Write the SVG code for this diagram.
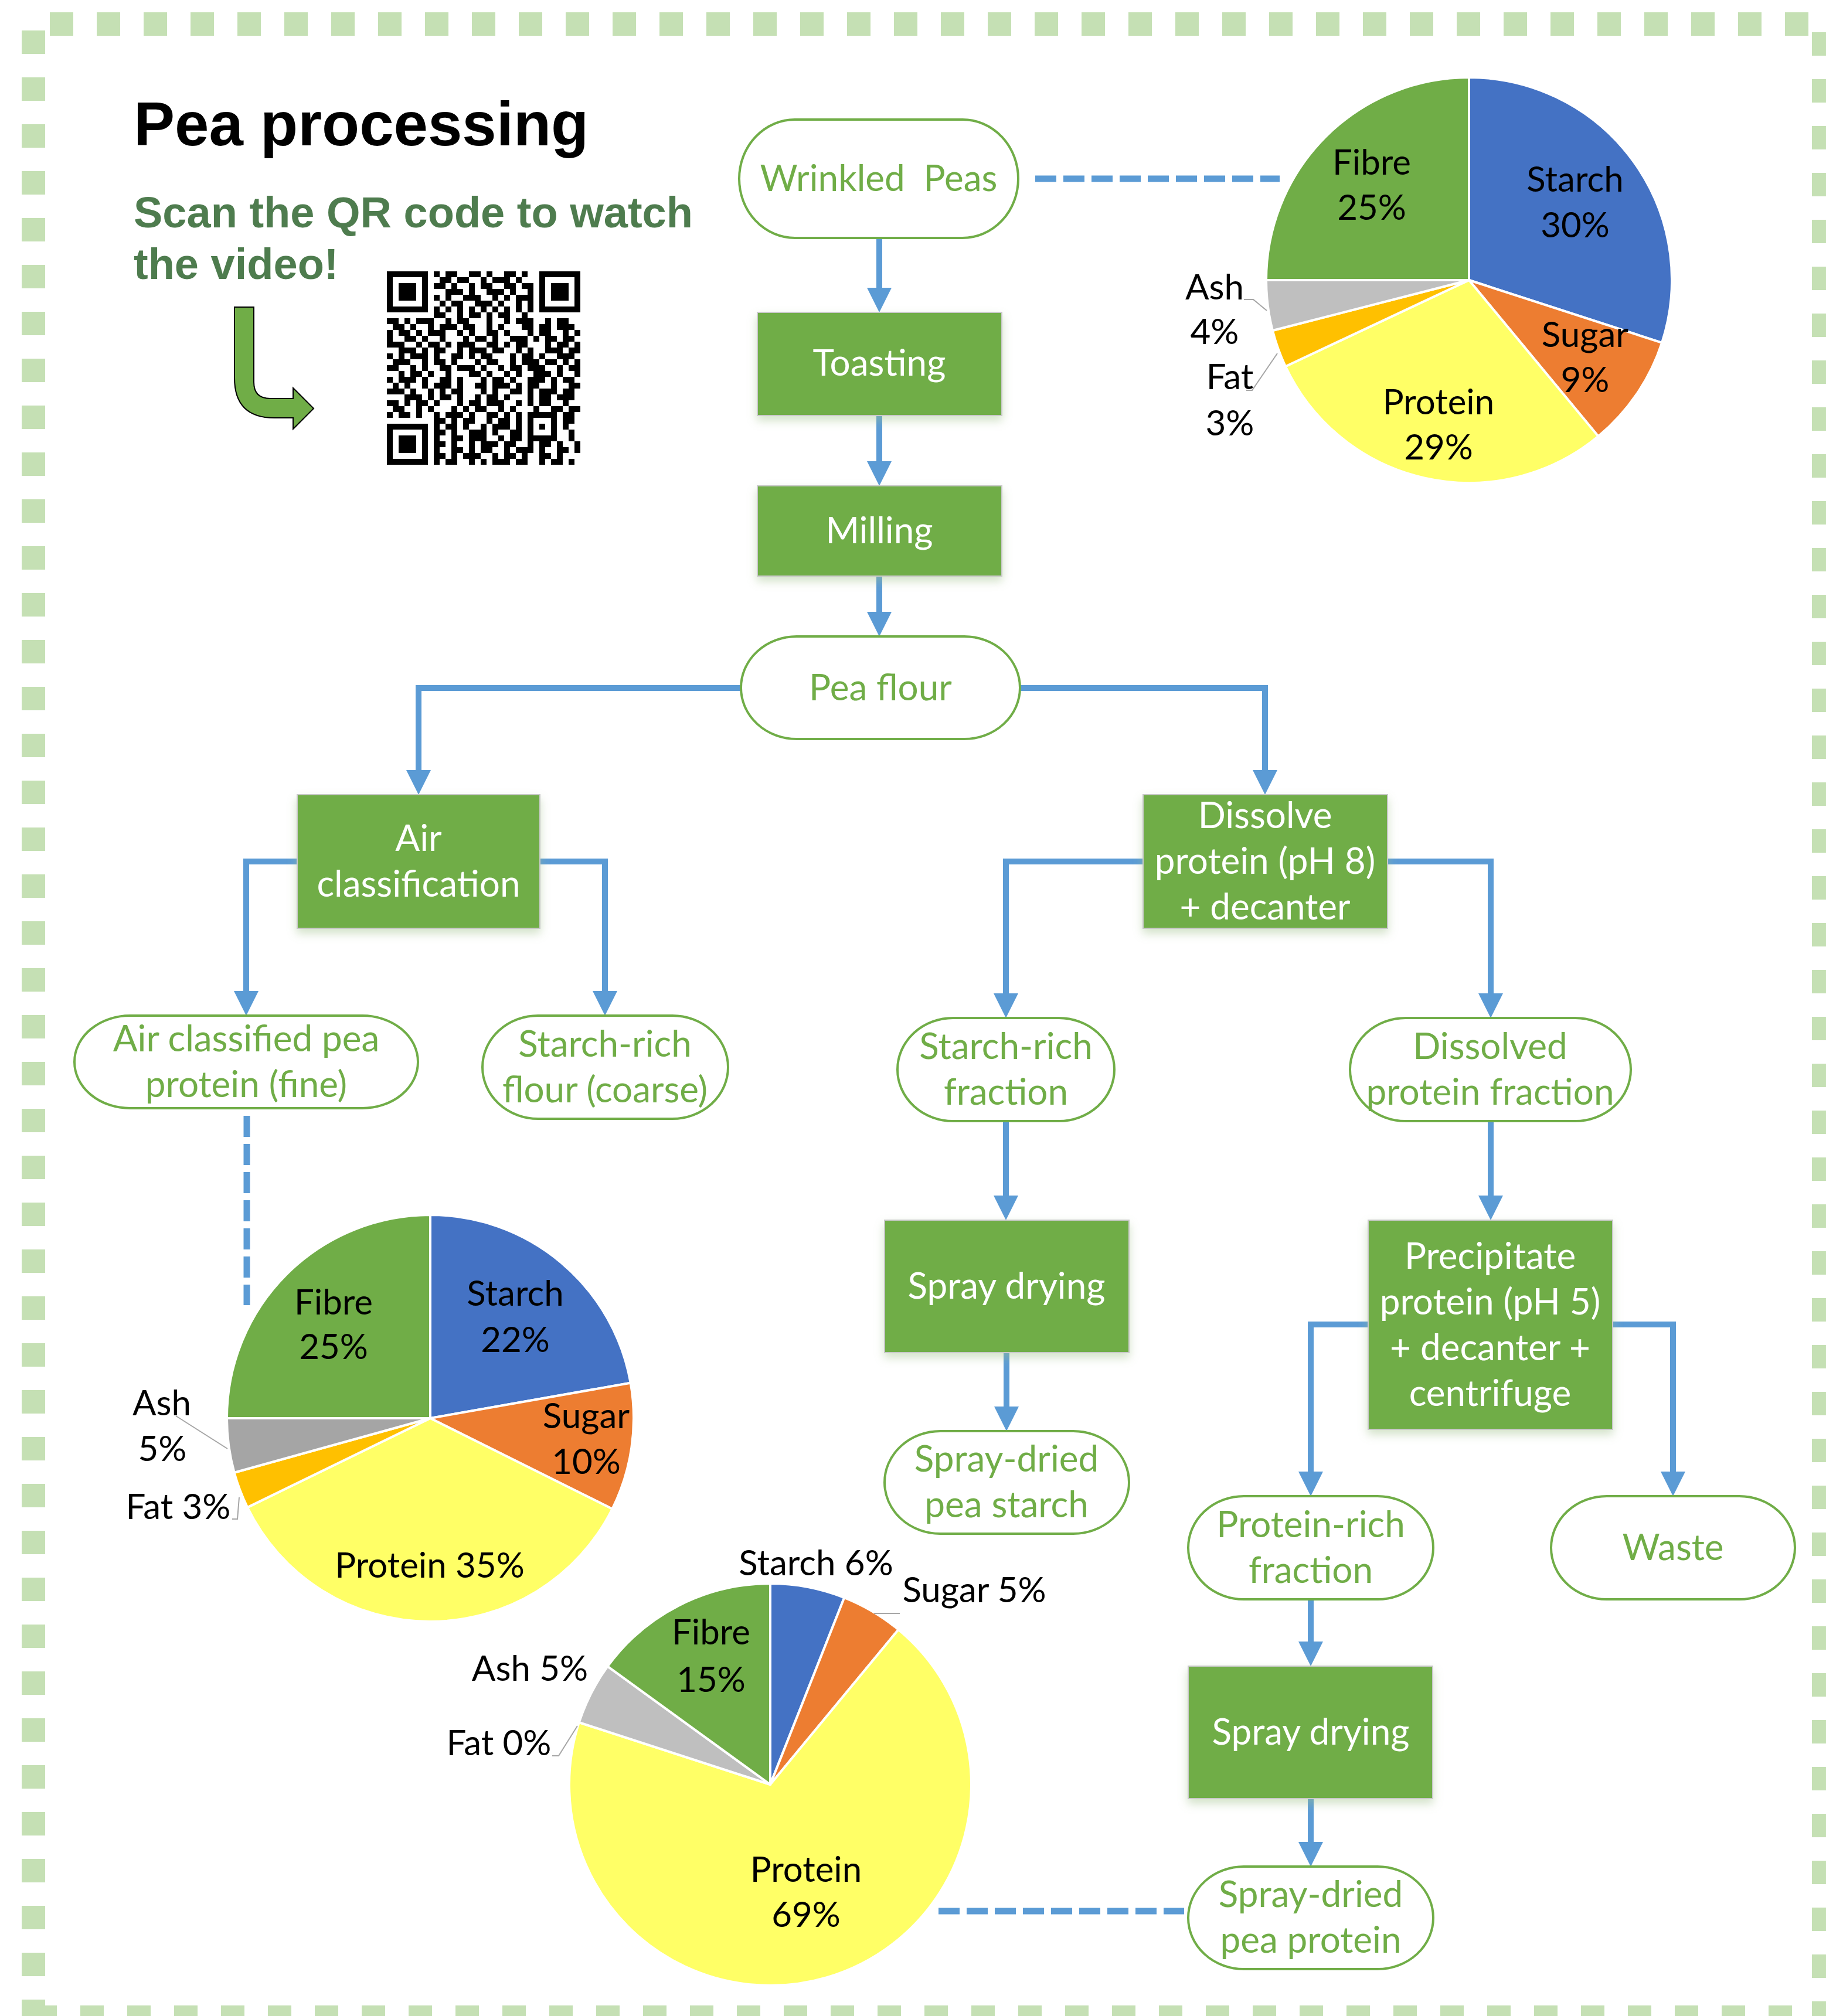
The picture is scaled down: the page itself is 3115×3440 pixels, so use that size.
<svg xmlns="http://www.w3.org/2000/svg" width="3115" height="3440" viewBox="0 0 3115 3440">
<style>
.border{stroke:#C5E0B4;stroke-width:40;stroke-dasharray:40 40;fill:none}
.proc{fill:#70AD47;stroke:#C9C9C9;stroke-width:2;filter:url(#sh)}
.term{fill:#fff;stroke:#70AD47;stroke-width:4}
.pt{font-family:Lato,"Open Sans",sans-serif;font-size:62px;fill:#fff;text-anchor:middle}
.tt{font-family:Lato,"Open Sans",sans-serif;font-size:62px;fill:#70AD47;text-anchor:middle}
.lbl{font-family:Lato,"Open Sans",sans-serif;font-size:60px;fill:#000;text-anchor:middle}
.conn{fill:none;stroke:#5B9BD5;stroke-width:10;stroke-linecap:round;stroke-linejoin:miter;marker-end:url(#ah)}
.dash{fill:none;stroke:#5B9BD5;stroke-width:11;stroke-dasharray:36 12}
.lead{fill:none;stroke:#A6A6A6;stroke-width:2}
.sl{stroke:#fff;stroke-width:4;stroke-linejoin:round}
</style>
<defs>
<marker id="ah" markerUnits="userSpaceOnUse" markerWidth="42" markerHeight="42" refX="12" refY="21" orient="auto" viewBox="0 0 42 42">
<path d="M0,0 L42,21 L0,42 Z" fill="#5B9BD5"/>
</marker>
<filter id="sh" x="-20%" y="-20%" width="140%" height="150%">
<feDropShadow dx="0" dy="8" stdDeviation="8" flood-color="#9DBF86" flood-opacity="0.45"/>
</filter>
</defs>
<rect width="3115" height="3440" fill="#fff"/>
<g id="border">
<line class="border" x1="85" y1="41" x2="3115" y2="41"/>
<line class="border" x1="57" y1="52" x2="57" y2="3440"/>
<line class="border" x1="3111" y1="55" x2="3111" y2="3440"/>
<line class="border" x1="57" y1="3442" x2="3091" y2="3442"/>
</g>
<g id="title">
<text x="228" y="248" font-family="'Liberation Sans',Arial,sans-serif" font-weight="bold" font-size="105" fill="#000">Pea processing</text>
<text font-family="'Liberation Sans',Arial,sans-serif" font-weight="bold" font-size="74" fill="#4E7C4E"><tspan x="228" y="388">Scan the QR code to watch</tspan><tspan x="228" y="476">the video!</tspan></text>
<path d="M400,524 H433 V652 Q433,680 461,680 H500 V662 L535,697 L500,732 V713 H468 Q400,713 400,645 Z" fill="#70AD47" stroke="#000" stroke-width="2"/>
</g>
<g id="qr" stroke="#000" stroke-width="10" fill="none">
<line x1="660" x2="990" y1="468" y2="468" stroke-dasharray="70 10 10 10 20 20 20 10 10 20 20 10 10 20 70"/>
<line x1="660" x2="990" y1="478" y2="478" stroke-dasharray="10 50 10 20 20 10 20 20 10 10 30 10 10 30 10 50 10"/>
<line x1="660" x2="990" y1="488" y2="488" stroke-dasharray="10 10 30 10 10 10 20 10 10 20 10 10 20 20 20 10 20 10 10 10 30 10 10"/>
<line x1="660" x2="990" y1="498" y2="498" stroke-dasharray="10 10 30 10 10 30 30 10 10 20 30 10 10 20 10 10 10 10 30 10 10"/>
<line x1="660" x2="990" y1="508" y2="508" stroke-dasharray="10 10 30 10 10 10 10 10 10 20 30 20 10 10 10 10 30 10 10 10 30 10 10"/>
<line x1="660" x2="990" y1="518" y2="518" stroke-dasharray="10 50 10 20 10 10 20 20 30 10 10 20 10 10 10 10 10 50 10"/>
<line x1="660" x2="990" y1="528" y2="528" stroke-dasharray="70 10 10 10 10 10 10 10 10 10 10 10 10 10 10 10 10 10 10 10 70"/>
<line x1="660" x2="990" y1="538" y2="538" stroke-dasharray="0 80 20 20 10 10 20 10 10 10 20 20 10 90"/>
<line x1="660" x2="990" y1="548" y2="548" stroke-dasharray="20 10 10 10 30 20 10 10 20 30 10 20 10 10 30 20 10 10 20 20"/>
<line x1="660" x2="990" y1="558" y2="558" stroke-dasharray="0 10 20 10 10 20 10 10 30 10 20 20 10 10 10 30 20 10 20 10 30 10"/>
<line x1="660" x2="990" y1="568" y2="568" stroke-dasharray="10 10 20 10 10 10 30 20 10 10 10 20 20 10 10 30 10 10 20 20 10 10 10"/>
<line x1="660" x2="990" y1="578" y2="578" stroke-dasharray="10 20 20 10 10 20 10 30 10 10 20 10 10 20 30 10 10 10 20 10 20 10"/>
<line x1="660" x2="990" y1="588" y2="588" stroke-dasharray="30 20 10 10 20 10 10 10 30 20 20 10 10 10 20 30 10 10 20 10 10"/>
<line x1="660" x2="990" y1="598" y2="598" stroke-dasharray="0 20 30 10 10 10 20 20 10 10 30 10 20 20 10 10 10 20 30 10 20"/>
<line x1="660" x2="990" y1="608" y2="608" stroke-dasharray="10 10 10 10 30 10 10 20 20 10 10 10 20 30 10 10 20 10 10 20 30 10"/>
<line x1="660" x2="990" y1="618" y2="618" stroke-dasharray="0 10 30 20 10 10 20 10 10 30 10 10 20 20 10 10 30 10 20 10 10 10 10"/>
<line x1="660" x2="990" y1="628" y2="628" stroke-dasharray="20 20 10 10 10 20 20 10 30 10 10 20 10 10 20 10 30 20 10 10 20"/>
<line x1="660" x2="990" y1="638" y2="638" stroke-dasharray="0 20 10 10 20 10 10 20 10 30 20 10 10 20 10 10 10 20 30 10 10 20 10"/>
<line x1="660" x2="990" y1="648" y2="648" stroke-dasharray="10 10 30 10 10 20 20 10 10 30 10 10 20 10 10 20 30 10 10 10 20 10"/>
<line x1="660" x2="990" y1="658" y2="658" stroke-dasharray="0 10 10 10 10 20 10 10 30 10 10 20 20 10 30 10 10 10 20 20 10 20 20"/>
<line x1="660" x2="990" y1="668" y2="668" stroke-dasharray="30 10 10 20 10 10 10 10 20 30 10 10 10 20 20 10 10 10 30 10 20 10"/>
<line x1="660" x2="990" y1="678" y2="678" stroke-dasharray="0 30 30 10 10 10 20 10 10 20 10 10 20 10 10 30 10 10 20 10 30 10"/>
<line x1="660" x2="990" y1="688" y2="688" stroke-dasharray="20 10 10 10 20 10 10 30 10 10 20 10 30 20 10 10 10 10 20 20 10 20"/>
<line x1="660" x2="990" y1="698" y2="698" stroke-dasharray="0 10 20 20 10 10 10 30 10 10 10 10 20 20 10 10 10 30 10 20 20 10 20"/>
<line x1="660" x2="990" y1="708" y2="708" stroke-dasharray="10 10 20 10 10 20 10 10 30 10 10 20 20 10 10 10 10 10 50 10 20 10"/>
<line x1="660" x2="990" y1="718" y2="718" stroke-dasharray="0 80 20 10 10 10 20 20 10 10 20 10 10 10 10 30 10 10 20 10"/>
<line x1="660" x2="990" y1="728" y2="728" stroke-dasharray="70 10 10 10 20 10 10 20 10 10 30 10 10 10 10 10 10 10 10 10 10 20"/>
<line x1="660" x2="990" y1="738" y2="738" stroke-dasharray="10 50 10 10 20 10 10 20 30 10 10 20 20 10 10 30 10 20 10 10"/>
<line x1="660" x2="990" y1="748" y2="748" stroke-dasharray="10 10 30 10 10 10 10 20 20 10 30 20 10 10 20 10 50 20 10 10"/>
<line x1="660" x2="990" y1="758" y2="758" stroke-dasharray="10 10 30 10 10 10 20 10 10 20 10 10 30 10 20 20 10 10 20 10 10 20 10"/>
<line x1="660" x2="990" y1="768" y2="768" stroke-dasharray="10 10 30 10 10 10 10 20 20 10 10 10 20 20 10 10 30 10 10 20 20 10 10"/>
<line x1="660" x2="990" y1="778" y2="778" stroke-dasharray="10 50 10 10 20 10 10 10 30 20 10 10 20 10 10 20 20 10 10 30"/>
<line x1="660" x2="990" y1="788" y2="788" stroke-dasharray="70 10 10 10 20 20 10 10 10 10 30 10 20 20 10 10 20 10 10 10"/>
</g>
<g id="connectors">
<path class="conn" d="M1500,406 V503"/>
<path class="conn" d="M1500,709 V799"/>
<path class="conn" d="M1500,983 V1056"/>
<path class="conn" d="M1264,1174 H714 V1326"/>
<path class="conn" d="M1740,1174 H2158 V1326"/>
<path class="conn" d="M507,1470 H420 V1703"/>
<path class="conn" d="M921,1470 H1032 V1703"/>
<path class="conn" d="M1950,1470 H1716 V1707"/>
<path class="conn" d="M2367,1470 H2543 V1707"/>
<path class="conn" d="M1716,1913 V2052"/>
<path class="conn" d="M2543,1913 V2052"/>
<path class="conn" d="M1717,2308 V2412"/>
<path class="conn" d="M2334,2260 H2236 V2523"/>
<path class="conn" d="M2751,2260 H2854 V2523"/>
<path class="conn" d="M2236,2729 V2813"/>
<path class="conn" d="M2236,3069 V3155"/>
<path class="dash" d="M1766,305 H2183"/>
<path class="dash" d="M421,1904 V2227"/>
<path class="dash" d="M1601,3261 H2020"/>
</g>
<g id="n-wrinkled"><rect class="term" x="1261" y="204" width="476" height="202" rx="95" ry="101"/><text class="tt" x="1499" y="326">Wrinkled&#160; Peas</text></g>
<g id="n-toasting"><rect class="proc" x="1292" y="533" width="417" height="176"/><text class="pt" x="1500" y="641">Toasting</text></g>
<g id="n-milling"><rect class="proc" x="1292" y="829" width="417" height="154"/><text class="pt" x="1500" y="927">Milling</text></g>
<g id="n-peaflour"><rect class="term" x="1264" y="1086" width="476" height="175" rx="95" ry="87.5"/><text class="tt" x="1502" y="1195">Pea flour</text></g>
<g id="n-aircls"><rect class="proc" x="507" y="1356" width="414" height="228"/><text class="pt" x="714"><tspan x="714" y="1452">Air</tspan><tspan x="714" y="1530">classification</tspan></text></g>
<g id="n-dissolve"><rect class="proc" x="1950" y="1356" width="417" height="228"/><text class="pt"><tspan x="2158" y="1413">Dissolve</tspan><tspan x="2158" y="1491">protein (pH 8)</tspan><tspan x="2158" y="1569">+ decanter</tspan></text></g>
<g id="n-acpp"><rect class="term" x="127" y="1733" width="586" height="158" rx="95" ry="79"/><text class="tt"><tspan x="420" y="1794">Air classified pea</tspan><tspan x="420" y="1872">protein (fine)</tspan></text></g>
<g id="n-srflour"><rect class="term" x="823" y="1733" width="419" height="176" rx="95" ry="88"/><text class="tt"><tspan x="1032" y="1803">Starch-rich</tspan><tspan x="1032" y="1881">flour (coarse)</tspan></text></g>
<g id="n-srfrac"><rect class="term" x="1531" y="1737" width="370" height="176" rx="95" ry="88"/><text class="tt"><tspan x="1716" y="1807">Starch-rich</tspan><tspan x="1716" y="1885">fraction</tspan></text></g>
<g id="n-dpf"><rect class="term" x="2303" y="1737" width="479" height="176" rx="95" ry="88"/><text class="tt"><tspan x="2542" y="1807">Dissolved</tspan><tspan x="2542" y="1885">protein fraction</tspan></text></g>
<g id="n-spray1"><rect class="proc" x="1509" y="2082" width="417" height="226"/><text class="pt" x="1717" y="2216">Spray drying</text></g>
<g id="n-precip"><rect class="proc" x="2334" y="2082" width="417" height="357"/><text class="pt"><tspan x="2542" y="2165">Precipitate</tspan><tspan x="2542" y="2243">protein (pH 5)</tspan><tspan x="2542" y="2321">+ decanter +</tspan><tspan x="2542" y="2399">centrifuge</tspan></text></g>
<g id="n-sdstarch"><rect class="term" x="1509" y="2442" width="417" height="175" rx="95" ry="87.5"/><text class="tt"><tspan x="1717" y="2511">Spray-dried</tspan><tspan x="1717" y="2589">pea starch</tspan></text></g>
<g id="n-prfrac"><rect class="term" x="2027" y="2553" width="418" height="176" rx="95" ry="88"/><text class="tt"><tspan x="2236" y="2623">Protein-rich</tspan><tspan x="2236" y="2701">fraction</tspan></text></g>
<g id="n-waste"><rect class="term" x="2646" y="2553" width="416" height="176" rx="95" ry="88"/><text class="tt" x="2854" y="2662">Waste</text></g>
<g id="n-spray2"><rect class="proc" x="2027" y="2843" width="417" height="226"/><text class="pt" x="2236" y="2977">Spray drying</text></g>
<g id="n-sdprotein"><rect class="term" x="2027" y="3185" width="418" height="175" rx="95" ry="87.5"/><text class="tt"><tspan x="2236" y="3254">Spray-dried</tspan><tspan x="2236" y="3332">pea protein</tspan></text></g>
<g id="pie-peas">
<path class="sl" fill="#4472C4" d="M2506,478 L2506,132 A346,346 0 0 1 2835.1,584.9 Z"/>
<path class="sl" fill="#ED7D31" d="M2506,478 L2835.1,584.9 A346,346 0 0 1 2726.5,744.6 Z"/>
<path class="sl" fill="#FFFF66" d="M2506,478 L2726.5,744.6 A346,346 0 0 1 2192.9,625.3 Z"/>
<path class="sl" fill="#FFC000" d="M2506,478 L2192.9,625.3 A346,346 0 0 1 2170.9,564 Z"/>
<path class="sl" fill="#BFBFBF" d="M2506,478 L2170.9,564 A346,346 0 0 1 2160,478 Z"/>
<path class="sl" fill="#70AD47" d="M2506,478 L2160,478 A346,346 0 0 1 2506,132 Z"/>
<path class="lead" d="M2122,511 H2138 L2161,530"/>
<path class="lead" d="M2179,603 L2136,666 H2126"/>
<text class="lbl"><tspan x="2340" y="298">Fibre</tspan><tspan x="2340" y="375">25%</tspan></text>
<text class="lbl"><tspan x="2687" y="327">Starch</tspan><tspan x="2687" y="405">30%</tspan></text>
<text class="lbl"><tspan x="2704" y="592">Sugar</tspan><tspan x="2704" y="669">9%</tspan></text>
<text class="lbl"><tspan x="2454" y="707">Protein</tspan><tspan x="2454" y="784">29%</tspan></text>
<text class="lbl"><tspan x="2072" y="511">Ash</tspan><tspan x="2072" y="587">4%</tspan></text>
<text class="lbl"><tspan x="2098" y="664">Fat</tspan><tspan x="2098" y="743">3%</tspan></text>
</g>
<g id="pie-fine">
<path class="sl" fill="#4472C4" d="M734,2420 L734,2073 A347,347 0 0 1 1075.7,2359.7 Z"/>
<path class="sl" fill="#ED7D31" d="M734,2420 L1075.7,2359.7 A347,347 0 0 1 1044.5,2574.8 Z"/>
<path class="sl" fill="#FFFF66" d="M734,2420 L1044.5,2574.8 A347,347 0 0 1 422.1,2572.1 Z"/>
<path class="sl" fill="#FFC000" d="M734,2420 L422.1,2572.1 A347,347 0 0 1 399.6,2512.7 Z"/>
<path class="sl" fill="#A5A5A5" d="M734,2420 L399.6,2512.7 A347,347 0 0 1 387,2420 Z"/>
<path class="sl" fill="#70AD47" d="M734,2420 L387,2420 A347,347 0 0 1 734,2073 Z"/>
<path class="lead" d="M300,2416 L388,2472"/>
<path class="lead" d="M396,2592 H405 L408,2555"/>
<text class="lbl"><tspan x="569" y="2243">Fibre</tspan><tspan x="569" y="2319">25%</tspan></text>
<text class="lbl"><tspan x="879" y="2228">Starch</tspan><tspan x="879" y="2307">22%</tspan></text>
<text class="lbl"><tspan x="1000" y="2437">Sugar</tspan><tspan x="1000" y="2515">10%</tspan></text>
<text class="lbl" x="733" y="2692">Protein 35%</text>
<text class="lbl"><tspan x="276" y="2415">Ash</tspan><tspan x="277" y="2493">5%</tspan></text>
<text class="lbl" x="304" y="2592">Fat 3%</text>
</g>
<g id="pie-spraydried">
<path class="sl" fill="#4472C4" d="M1314,3045 L1314,2702 A343,343 0 0 1 1440.3,2726.1 Z"/>
<path class="sl" fill="#ED7D31" d="M1314,3045 L1440.3,2726.1 A343,343 0 0 1 1532.6,2780.7 Z"/>
<path class="sl" fill="#FFFF66" d="M1314,3045 L1532.6,2780.7 A343,343 0 1 1 987.8,2939 Z"/>
<path class="sl" fill="#BFBFBF" d="M1314,3045 L987.8,2939 A343,343 0 0 1 1036.5,2843.4 Z"/>
<path class="sl" fill="#70AD47" d="M1314,3045 L1036.5,2843.4 A343,343 0 0 1 1314,2702 Z"/>
<path class="lead" d="M1491,2753 H1535"/>
<path class="lead" d="M942,2996 H953 L985,2945"/>
<text class="lbl" x="1392" y="2688">Starch 6%</text>
<text class="lbl" x="1662" y="2734">Sugar 5%</text>
<text class="lbl"><tspan x="1213" y="2806">Fibre</tspan><tspan x="1213" y="2887">15%</tspan></text>
<text class="lbl" x="904" y="2868">Ash 5%</text>
<text class="lbl" x="851" y="2995">Fat 0%</text>
<text class="lbl"><tspan x="1375" y="3211">Protein</tspan><tspan x="1375" y="3288">69%</tspan></text>
</g>
</svg>
